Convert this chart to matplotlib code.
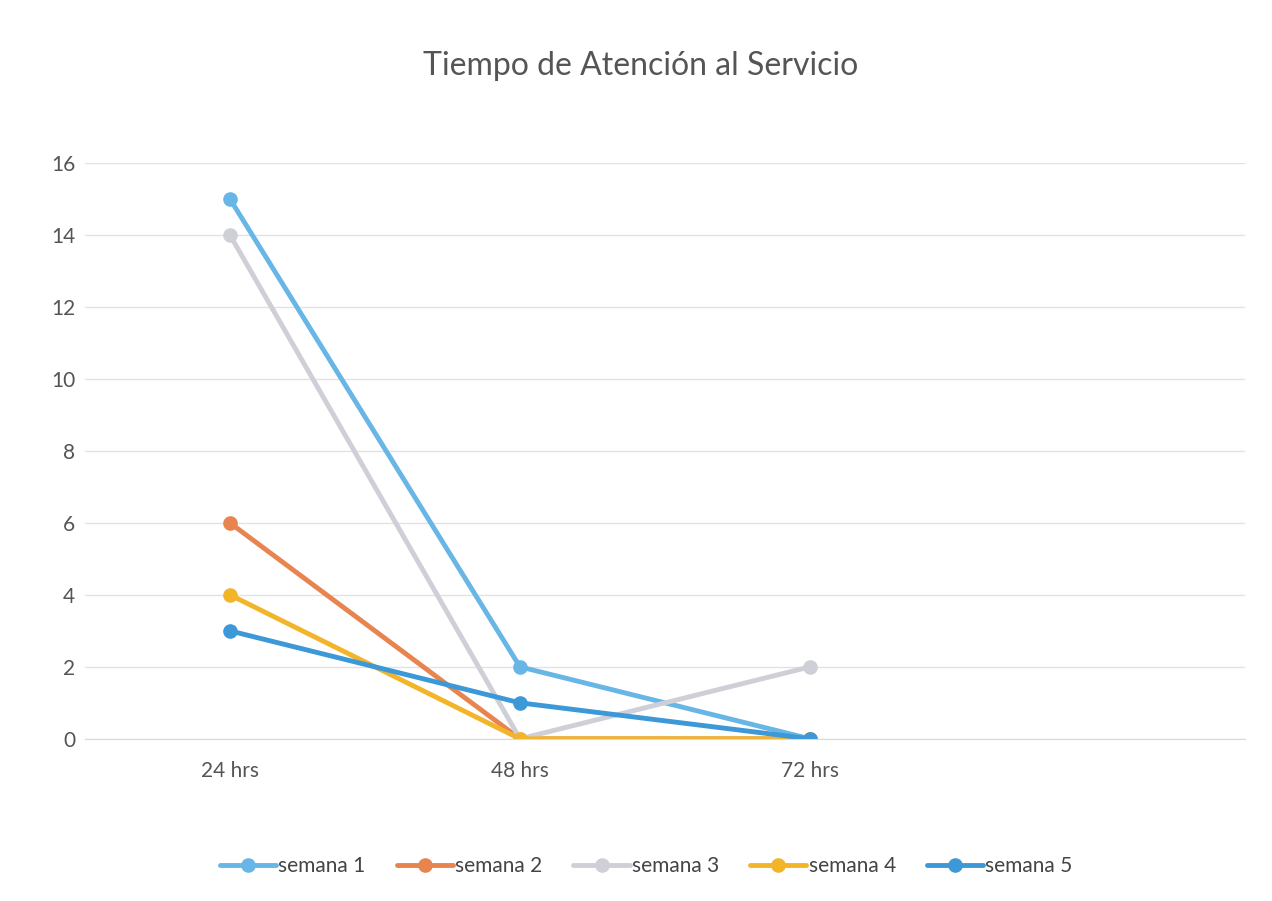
import matplotlib.pyplot as plt

plt.rcParams['font.family'] = ['Lato', 'DejaVu Sans']

categories = ["24 hrs", "48 hrs", "72 hrs", ""]
series_names = ["semana 1", "semana 2", "semana 3", "semana 4", "semana 5"]
semana_1 = [15, 2, 0]
semana_2 = [6, 0, 0]
semana_3 = [14, 0, 2]
semana_4 = [4, 0, 0]
semana_5 = [3, 1, 0]
colors = ["#68b6e6", "#e8844f", "#cfcfd8", "#f2b52a", "#3d98d8"]

fig = plt.figure(figsize=(12.72, 9.01), dpi=100)
ax = fig.add_axes([0.0668, 0.18, 0.912, 0.639])

x = list(range(len(categories)))
for name, vals, c in zip(series_names, [semana_1, semana_2, semana_3, semana_4, semana_5], colors):
    ax.plot(x[:len(vals)], vals, color=c, lw=3.5, marker="o", ms=9.5,
            solid_capstyle="round", label=name)

ax.set_xlim(-0.5, 3.5)
ax.set_ylim(0, 16)
ax.set_yticks(range(0, 17, 2))
ax.set_xticks(x[:3])
ax.set_xticklabels(categories[:3])
ax.tick_params(length=0, labelsize=15, colors="#555555")
ax.tick_params(axis="x", pad=16)
ax.tick_params(axis="y", pad=7)
ax.grid(axis="y", color="#e2e2e2", lw=1)
ax.set_axisbelow(True)
for s in ["top", "right", "left"]:
    ax.spines[s].set_visible(False)
ax.spines["bottom"].set_color("#d9d9d9")

fig.text(0.504, 0.927, "Tiempo de Atención al Servicio", ha="center", va="center",
         fontsize=23, color="#555555")

fig.legend(loc="center", bbox_to_anchor=(0.508, 0.039), ncol=5, frameon=False,
           fontsize=15, handlelength=2.7, columnspacing=1.5, handletextpad=0.1,
           labelcolor="#444444")

fig.savefig("out.png", dpi=100)
